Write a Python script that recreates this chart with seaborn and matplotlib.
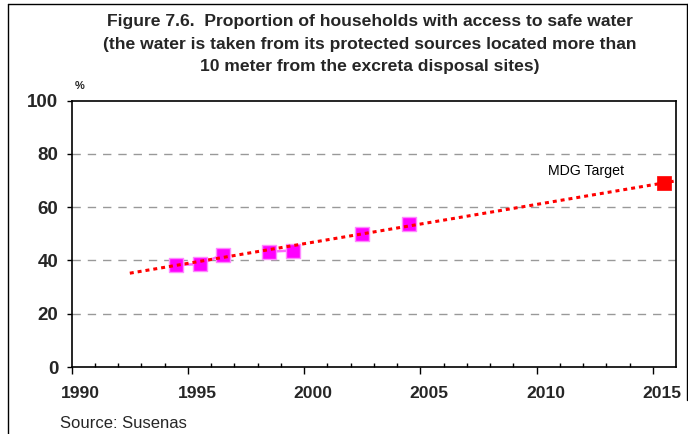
import numpy as np
import pandas as pd
import matplotlib
matplotlib.use("Agg")
import matplotlib.pyplot as plt
import matplotlib.transforms as mtransforms
from matplotlib.lines import Line2D
import seaborn as sns

# ---- data ----
years = [1994, 1995, 1996, 1998, 1999, 2002, 2004]
access_pct = [38.3, 38.6, 42.1, 43.3, 43.7, 50.0, 53.5]
target_year = [2015]
target_pct = [69.2]
trend_years = [1992.0, 2015.4]
trend_pct = [35.2, 69.7]
x_tick_years = [1990, 1995, 2000, 2005, 2010, 2015]
y_ticks = [0, 20, 40, 60, 80, 100]

sns.set_theme(style="white")
plt.rcParams["font.family"] = ["Liberation Sans", "DejaVu Sans"]

fig = plt.figure(figsize=(6.88, 4.34), dpi=100)
ax = fig.add_axes([71.7 / 688, 1 - 367 / 434, (676 - 71.7) / 688, (367 - 100.5) / 434])

# series positioned at the middle of each year category
df = pd.DataFrame({"year": years, "pct": access_pct})
full = df.set_index("year").reindex(range(min(years), max(years) + 1)).reset_index()
full["pos"] = full["year"] + 0.5
df["pos"] = df["year"] + 0.5

# gridlines
for yv in y_ticks[1:-1]:
    ax.axhline(yv, color="#999999", lw=1.0, ls=(0, (6, 5)), zorder=0)

# trend line
tdf = pd.DataFrame({"pos": np.array(trend_years) + 0.5, "pct": trend_pct})
sns.lineplot(data=tdf, x="pos", y="pct", ax=ax, color="#FF0000", lw=2.2,
             linestyle=(0, (1.3, 1.3)), zorder=4)

# connecting line for consecutive years
ax.plot(full["pos"], full["pct"], color="#FF66FF", lw=1.8, zorder=2)

sns.scatterplot(data=df, x="pos", y="pct", ax=ax, marker="s", s=95,
                color="#FF00FF", edgecolor="#FF88FF", linewidth=1.0, zorder=3)

tgt = pd.DataFrame({"pos": np.array(target_year) + 0.5, "pct": target_pct})
sns.scatterplot(data=tgt, x="pos", y="pct", ax=ax, marker="s", s=95,
                color="#FF0000", edgecolor="#FF0000", linewidth=0.5, zorder=5)

ax.set_xlim(1990, 2016)
ax.set_ylim(0, 100)
ax.set_xlabel("")
ax.set_ylabel("")

for s in ax.spines.values():
    s.set_color("black")
    s.set_linewidth(1.2)
    s.set_visible(True)

ax.set_yticks(y_ticks)
ax.set_yticklabels([str(v) for v in y_ticks], fontsize=13.5, fontweight="bold")
ax.tick_params(axis="y", direction="out", length=3.6, width=1, color="black", pad=6, left=True)

ax.set_xticks(x_tick_years)
ax.set_xticklabels([str(v) for v in x_tick_years], fontsize=12.6, fontweight="bold")
ax.set_xticks(range(1991, 2016), minor=True)
ax.tick_params(axis="x", which="major", direction="out", length=4.8, width=1, color="black", pad=9, bottom=True)
ax.tick_params(axis="x", which="minor", direction="in", length=2.9, width=1, color="black", bottom=True)
offset = mtransforms.ScaledTranslation(9 / 100, 0, fig.dpi_scale_trans)
for lab in ax.get_xticklabels():
    lab.set_transform(lab.get_transform() + offset)

ax.text(2010.5, 73.5, "MDG Target", fontsize=10.2, ha="left", va="center", color="black")

fig.text(370 / 688, 1 - 44 / 434,
         "Figure 7.6.  Proportion of households with access to safe water\n"
         "(the water is taken from its protected sources located more than\n"
         "10 meter from the excreta disposal sites)",
         ha="center", va="center", fontsize=12.6, fontweight="bold",
         linespacing=1.62, transform=fig.transFigure)
fig.text(80 / 688, 1 - 86 / 434, "%", fontsize=8, fontweight="bold",
         ha="center", va="center")
fig.text(60 / 688, 1 - 423 / 434, "Source: Susenas", fontsize=12, ha="left", va="center")

# outer frame
fig.add_artist(Line2D([7.5 / 688, 7.5 / 688], [0, 1 - 4 / 434], transform=fig.transFigure,
                      color="black", lw=1.0))
fig.add_artist(Line2D([7.5 / 688, 1], [1 - 4 / 434, 1 - 4 / 434], transform=fig.transFigure,
                      color="black", lw=1.0))
fig.add_artist(Line2D([686.5 / 688, 686.5 / 688], [1 - 400 / 434, 1 - 4 / 434],
                      transform=fig.transFigure, color="black", lw=1.0))

fig.savefig("out.png", dpi=100)
